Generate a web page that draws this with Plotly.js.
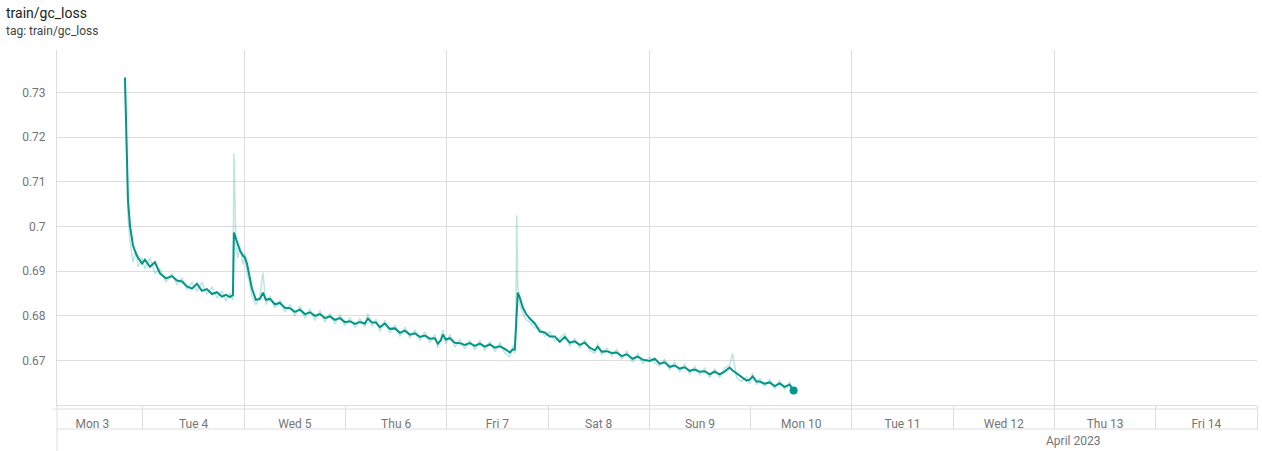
<!DOCTYPE html>
<html><head><meta charset="utf-8">
<script src="https://cdn.plot.ly/plotly-3.0.1.min.js"></script>
<style>html,body{margin:0;padding:0;background:#fff}#chart{width:1262px;height:451px}</style>
</head><body><div id="chart"></div>
<script>
// Wall-clock time of each logged step (April 2023)
const times = [
'2023-04-03 19:44','2023-04-03 19:58','2023-04-03 20:13','2023-04-03 20:27','2023-04-03 20:55','2023-04-03 21:38','2023-04-03 22:20','2023-04-03 22:49','2023-04-03 23:46',
'2023-04-04 00:28','2023-04-04 01:39','2023-04-04 02:50','2023-04-04 04:01','2023-04-04 05:27','2023-04-04 06:52','2023-04-04 08:03','2023-04-04 09:14','2023-04-04 10:25','2023-04-04 11:36','2023-04-04 12:47','2023-04-04 13:58','2023-04-04 15:09','2023-04-04 16:21','2023-04-04 17:32','2023-04-04 18:43','2023-04-04 19:40','2023-04-04 20:37','2023-04-04 21:19','2023-04-04 21:33','2023-04-04 22:02','2023-04-04 22:30','2023-04-04 22:59','2023-04-04 23:41',
'2023-04-05 00:10','2023-04-05 00:38','2023-04-05 01:07','2023-04-05 01:49','2023-04-05 02:46','2023-04-05 03:43','2023-04-05 04:26','2023-04-05 05:08','2023-04-05 06:05','2023-04-05 07:16','2023-04-05 08:27','2023-04-05 09:38','2023-04-05 10:49','2023-04-05 12:00','2023-04-05 13:12','2023-04-05 14:23','2023-04-05 15:34','2023-04-05 16:45','2023-04-05 17:56','2023-04-05 19:07','2023-04-05 20:18','2023-04-05 21:29','2023-04-05 22:40','2023-04-05 23:51',
'2023-04-06 01:02','2023-04-06 02:13','2023-04-06 03:24','2023-04-06 04:35','2023-04-06 05:18','2023-04-06 06:15','2023-04-06 07:12','2023-04-06 08:08','2023-04-06 09:19','2023-04-06 10:31','2023-04-06 11:42','2023-04-06 12:53','2023-04-06 14:04','2023-04-06 15:15','2023-04-06 16:26','2023-04-06 17:37','2023-04-06 18:48','2023-04-06 19:59','2023-04-06 21:10','2023-04-06 21:52','2023-04-06 22:35','2023-04-06 23:04','2023-04-06 23:46',
'2023-04-07 00:43','2023-04-07 01:54','2023-04-07 03:05','2023-04-07 04:16','2023-04-07 05:27','2023-04-07 06:38','2023-04-07 07:49','2023-04-07 09:00','2023-04-07 10:11','2023-04-07 11:23','2023-04-07 12:34','2023-04-07 13:45','2023-04-07 14:56','2023-04-07 15:38','2023-04-07 16:07','2023-04-07 16:21','2023-04-07 16:35','2023-04-07 16:49','2023-04-07 17:18','2023-04-07 18:00','2023-04-07 18:43','2023-04-07 19:40','2023-04-07 20:51','2023-04-07 22:02','2023-04-07 23:13',
'2023-04-08 00:24','2023-04-08 01:35','2023-04-08 02:46','2023-04-08 03:57','2023-04-08 05:08','2023-04-08 06:19','2023-04-08 07:30','2023-04-08 08:41','2023-04-08 09:52','2023-04-08 11:03','2023-04-08 11:46','2023-04-08 12:43','2023-04-08 13:54','2023-04-08 15:05','2023-04-08 16:16','2023-04-08 17:27','2023-04-08 18:38','2023-04-08 20:03','2023-04-08 21:14','2023-04-08 22:25',
'2023-04-09 00:05','2023-04-09 01:16','2023-04-09 02:27','2023-04-09 03:38','2023-04-09 04:49','2023-04-09 06:00','2023-04-09 07:11','2023-04-09 08:22','2023-04-09 09:33','2023-04-09 10:44','2023-04-09 11:55','2023-04-09 13:06','2023-04-09 14:17','2023-04-09 15:28','2023-04-09 16:39','2023-04-09 17:50','2023-04-09 19:01','2023-04-09 19:44','2023-04-09 20:41','2023-04-09 21:52','2023-04-09 23:03','2023-04-09 23:46',
'2023-04-10 00:28','2023-04-10 01:25','2023-04-10 02:08','2023-04-10 03:19','2023-04-10 04:30','2023-04-10 05:41','2023-04-10 06:52','2023-04-10 08:03','2023-04-10 09:14','2023-04-10 10:11'
];

// Smoothed train/gc_loss (dark line)
const smoothed = [
0.73336,0.72373,0.71366,0.70582,0.70022,0.69574,0.69395,0.69306,0.69171,
0.69260,0.69100,0.69200,0.68950,0.68840,0.68890,0.68790,0.68770,0.68660,0.68610,0.68720,0.68560,0.68600,0.68490,0.68530,0.68430,0.68470,0.68420,0.68470,
0.69866,0.69731,0.69597,0.69462,0.69351,
0.69306,0.69171,0.68903,0.68612,0.68360,0.68380,0.68522,0.68360,0.68380,0.68260,0.68290,0.68180,0.68170,0.68090,0.68140,0.68040,0.68080,0.68000,0.68040,0.67950,0.67990,0.67910,0.67950,0.67860,
0.67880,0.67820,0.67860,0.67830,0.67940,0.67850,0.67850,0.67750,0.67830,0.67710,0.67720,0.67620,0.67670,0.67580,0.67610,0.67530,0.67560,0.67490,0.67500,0.67380,0.67447,0.67582,0.67470,
0.67500,0.67400,0.67390,0.67350,0.67390,0.67330,0.67380,0.67310,0.67360,0.67290,0.67320,0.67260,0.67179,0.67246,0.67246,0.67671,0.68343,0.68522,0.68410,0.68186,0.68052,0.67940,0.67830,0.67650,0.67630,
0.67540,0.67540,0.67420,0.67530,0.67400,0.67430,0.67350,0.67400,0.67290,0.67230,0.67310,0.67200,0.67210,0.67170,0.67180,0.67100,0.67140,0.67040,0.67090,0.67020,
0.66990,0.67040,0.66930,0.66960,0.66860,0.66890,0.66820,0.66850,0.66770,0.66800,0.66750,0.66760,0.66690,0.66750,0.66690,0.66753,0.66843,0.66776,0.66709,0.66619,0.66552,0.66574,
0.66641,0.66530,0.66530,0.66480,0.66510,0.66430,0.66490,0.66410,0.66460,0.66328
];

// Raw train/gc_loss (faint line)
const raw = [
0.73336,0.72000,0.70900,0.70200,0.69700,0.69200,0.69450,0.69100,0.69300,
0.69050,0.69300,0.68950,0.69050,0.68750,0.68950,0.68700,0.68850,0.68600,0.68750,0.68550,0.68750,0.68480,0.68640,0.68400,0.68560,0.68330,0.68520,0.68350,
0.71640,0.69600,0.69300,0.69550,0.69150,
0.69400,0.68950,0.68800,0.68450,0.68250,0.68450,0.68970,0.68250,0.68450,0.68180,0.68350,0.68100,0.68250,0.68000,0.68220,0.67950,0.68160,0.67900,0.68120,0.67860,0.68060,0.67820,0.68030,0.67780,
0.67960,0.67740,0.67930,0.67750,0.68050,0.67760,0.67930,0.67650,0.67900,0.67620,0.67800,0.67540,0.67750,0.67500,0.67690,0.67450,0.67640,0.67400,0.67580,0.67280,0.67530,0.67680,0.67380,
0.67580,0.67300,0.67470,0.67260,0.67460,0.67240,0.67450,0.67220,0.67430,0.67200,0.67400,0.67170,0.67080,0.67330,0.67160,0.67800,0.70250,0.68650,0.68250,0.68050,0.67920,0.67860,0.67730,0.67740,0.67540,
0.67640,0.67440,0.67510,0.67600,0.67320,0.67500,0.67280,0.67470,0.67220,0.67160,0.67380,0.67130,0.67280,0.67100,0.67250,0.67030,0.67210,0.66960,0.67160,0.66940,
0.67070,0.66950,0.66880,0.67030,0.66790,0.66960,0.66750,0.66920,0.66700,0.66870,0.66680,0.66830,0.66620,0.66820,0.66620,0.66830,0.66900,0.67160,0.66620,0.66530,0.66640,0.66480,
0.66720,0.66460,0.66600,0.66420,0.66580,0.66370,0.66550,0.66350,0.66520,0.66300
];

const X_RANGE = ['2023-04-03 03:37:30', '2023-04-15 00:00'];
const Y_RANGE = [0.66005, 0.73952];
const DAY = 86400000;
const TEAL = '#009688';
const GRID = '#dedede';
const TICK_TXT = '#757575';

const W = 1262, H = 451, ML = 57, MR = 5, MT = 50, MB = 46;
const PW = W - ML - MR, PH = H - MT - MB;
const px = v => (v - ML) / PW;         // page x -> paper x
const py = v => (H - MB - v) / PH;      // page y -> paper y

const last = times.length - 1;
const traces = [
  {x: times, y: raw, type: 'scatter', mode: 'lines', line: {color: TEAL, width: 1.5}, opacity: 0.25, hoverinfo: 'skip'},
  {x: times, y: smoothed, type: 'scatter', mode: 'lines', line: {color: TEAL, width: 2}},
  {x: [times[last]], y: [smoothed[last]], type: 'scatter', mode: 'markers', marker: {color: TEAL, size: 8}},
  {x: X_RANGE, y: [null, null], xaxis: 'x2', type: 'scatter', mode: 'lines', hoverinfo: 'skip'},
  {x: X_RANGE, y: [null, null], xaxis: 'x3', type: 'scatter', mode: 'lines', hoverinfo: 'skip'}
];

const layout = {
  width: W, height: H,
  margin: {l: ML, r: MR, t: MT, b: MB, pad: 0},
  paper_bgcolor: '#fff', plot_bgcolor: '#fff',
  showlegend: false,
  font: {family: 'Roboto, "Liberation Sans", sans-serif', color: TICK_TXT, size: 12},
  title: {text: 'train/gc_loss', xref: 'container', yref: 'container', x: 6 / W, xanchor: 'left',
          y: 1 - 13 / H, yanchor: 'middle', font: {size: 14, color: '#212121'}},
  xaxis: {type: 'date', range: X_RANGE, tick0: '2023-04-03', dtick: 2 * DAY, showgrid: true, gridcolor: GRID,
          ticks: '', showticklabels: false, showline: true, linecolor: GRID, zeroline: false, fixedrange: true},
  xaxis2: {type: 'date', overlaying: 'x', anchor: 'y', side: 'bottom', range: X_RANGE, tick0: '2023-04-03', dtick: DAY,
           showgrid: false, ticks: 'outside', ticklen: 24, tickcolor: GRID, tickwidth: 1, showticklabels: false,
           showline: false, zeroline: false, fixedrange: true},
  xaxis3: {type: 'date', overlaying: 'x', anchor: 'y', side: 'bottom', range: X_RANGE, tick0: '2023-04-03', dtick: DAY,
           showgrid: false, ticks: '', ticklabelmode: 'period', tickformat: '%a %-d', ticklabelstandoff: 10,
           tickfont: {size: 12, color: TICK_TXT}, showline: false, zeroline: false, fixedrange: true},
  yaxis: {range: Y_RANGE, tick0: 0.67, dtick: 0.01, showgrid: true, gridcolor: GRID, ticks: 'outside', ticklen: 8,
          tickcolor: 'rgba(0,0,0,0)', showline: true, linecolor: GRID, zeroline: false,
          tickfont: {size: 12, color: TICK_TXT}, fixedrange: true},
  shapes: [
    {type: 'line', xref: 'paper', yref: 'paper', x0: px(52), x1: 1, y0: py(409), y1: py(409), line: {color: GRID, width: 1}},
    {type: 'line', xref: 'paper', yref: 'paper', x0: 0, x1: 1, y0: py(429), y1: py(429), line: {color: GRID, width: 1}},
    {type: 'line', xref: 'paper', yref: 'paper', x0: 0, x1: 0, y0: py(451), y1: 0, line: {color: GRID, width: 1}}
  ],
  annotations: [
    {text: 'tag: train/gc_loss', xref: 'paper', yref: 'paper', x: px(4), y: py(31), xanchor: 'left', yanchor: 'middle',
     showarrow: false, font: {size: 12, color: '#424242'}},
    {text: 'April 2023', xref: 'paper', yref: 'paper', x: px(1073), y: py(441), xanchor: 'center', yanchor: 'middle',
     showarrow: false, font: {size: 12, color: TICK_TXT}}
  ]
};

Plotly.newPlot('chart', traces, layout, {displayModeBar: false, staticPlot: true});
</script>
</body></html>
